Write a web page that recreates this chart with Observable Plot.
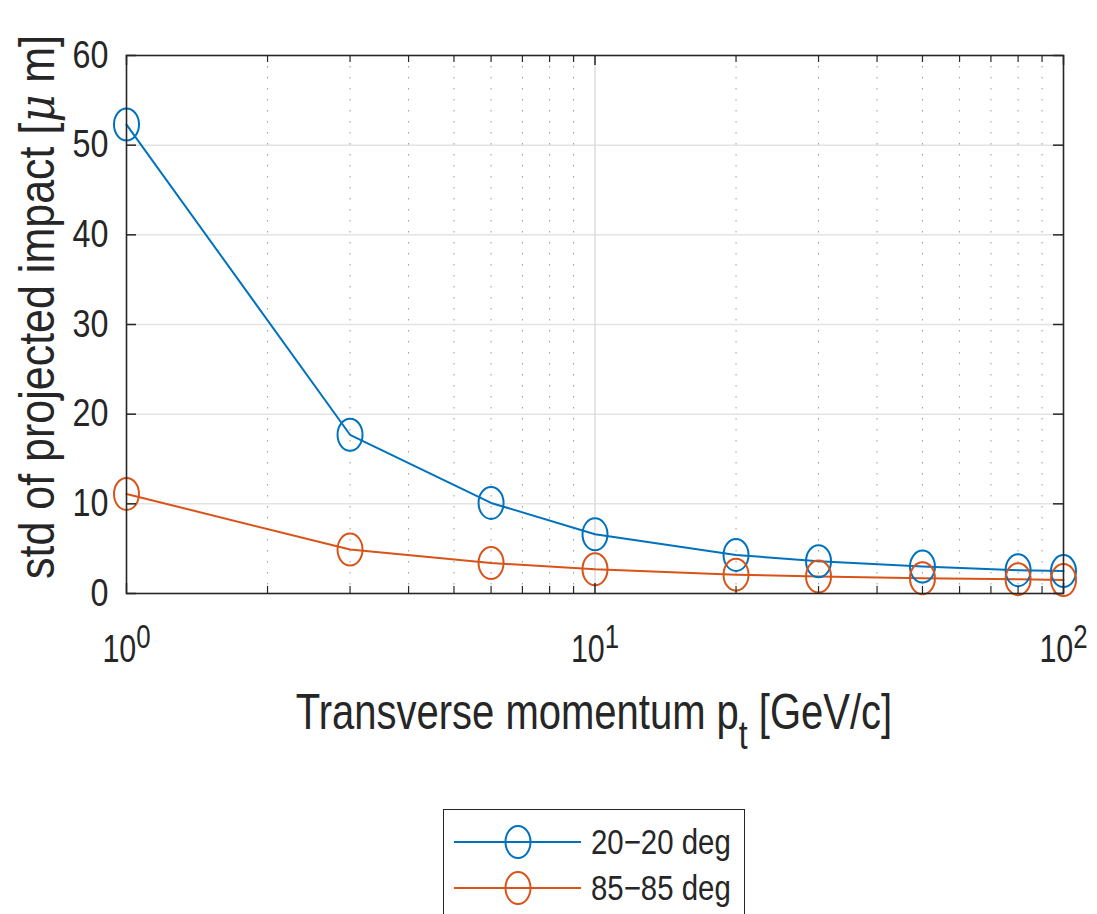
<!DOCTYPE html>
<html>
<head>
<meta charset="utf-8">
<script src="https://cdn.jsdelivr.net/npm/d3@7"></script>
<script src="https://cdn.jsdelivr.net/npm/@observablehq/plot@0.6"></script>
<style>
  html, body { margin: 0; padding: 0; background: #fff; overflow: hidden; }
  body { font-family: "Liberation Sans", Arial, sans-serif; color: #262626; }
  #legend { position: absolute; left: 443px; top: 809px; width: 302px; height: 130px;
    border: 1.6px solid #262626; background: #fff; box-sizing: border-box; }
</style>
</head>
<body>
<div id="chart"></div>
<div id="legend"></div>
<script>
// ---- data ----
const pt = [1, 3, 6, 10, 20, 30, 50, 80, 100];
const std20 = [52.3, 17.7, 10.1, 6.6, 4.3, 3.6, 3.0, 2.6, 2.5];
const std85 = [11.1, 4.9, 3.4, 2.7, 2.1, 1.9, 1.7, 1.6, 1.5];
const seriesNames = ["20-20 deg", "85-85 deg"];
const seriesColors = ["#0072BD", "#D95319"];
const yTicks = [0, 10, 20, 30, 40, 50, 60];
const xMajor = [1, 10, 100];
const xMinor = [2, 3, 4, 5, 6, 7, 8, 9, 20, 30, 40, 50, 60, 70, 80, 90];
const xExp = ["0", "1", "2"];

const rows = [];
pt.forEach((x, i) => rows.push({x, y: std20[i], s: seriesNames[0]}));
pt.forEach((x, i) => rows.push({x, y: std85[i], s: seriesNames[1]}));

const FONT = '"Liberation Sans", Arial, sans-serif';
const W = 1097, H = 763, mL = 126, mR = 34, mT = 55, mB = 170;
const pw = W - mL - mR, ph = H - mT - mB;

// ellipse symbol (markers look taller than wide)
const ellipse = {
  draw(ctx, size) {
    const rx = 12.5, ry = 16, k = 0.5523;
    ctx.moveTo(rx, 0);
    ctx.bezierCurveTo(rx, k * ry, k * rx, ry, 0, ry);
    ctx.bezierCurveTo(-k * rx, ry, -rx, k * ry, -rx, 0);
    ctx.bezierCurveTo(-rx, -k * ry, -k * rx, -ry, 0, -ry);
    ctx.bezierCurveTo(k * rx, -ry, rx, -k * ry, rx, 0);
    ctx.closePath();
  }
};

const chart = Plot.plot({
  width: W, height: H,
  marginLeft: mL, marginRight: mR, marginTop: mT, marginBottom: mB,
  style: {fontFamily: FONT, fontSize: "38px", color: "#262626", background: "#fff", overflow: "visible"},
  x: {type: "log", domain: [1, 100]},
  y: {domain: [0, 60]},
  color: {domain: seriesNames, range: seriesColors},
  marks: [
    Plot.ruleY(yTicks.slice(1, -1), {stroke: "#e3e3e3", strokeWidth: 1.5}),
    Plot.ruleX(xMinor, {stroke: "#9a9a9a", strokeWidth: 1, strokeDasharray: "1.5,9.5"}),
    Plot.ruleX([10], {stroke: "#dcdcdc", strokeWidth: 1.5}),
    Plot.line(rows, {x: "x", y: "y", z: "s", stroke: "s", strokeWidth: 2}),
    Plot.dot(rows, {x: "x", y: "y", stroke: "s", symbol: () => ellipse, r: 10, strokeWidth: 2, fill: "none"}),
    // inward ticks
    Plot.ruleX(xMajor, {stroke: "#262626", strokeWidth: 1.5, insetTop: ph - 10}),
    Plot.ruleX(xMajor, {stroke: "#262626", strokeWidth: 1.5, insetBottom: ph - 10}),
    Plot.ruleX(xMinor, {stroke: "#262626", strokeWidth: 1.2, insetTop: ph - 7}),
    Plot.ruleX(xMinor, {stroke: "#262626", strokeWidth: 1.2, insetBottom: ph - 7}),
    Plot.ruleY(yTicks, {stroke: "#262626", strokeWidth: 1.5, insetRight: pw - 10}),
    Plot.ruleY(yTicks, {stroke: "#262626", strokeWidth: 1.5, insetLeft: pw - 10}),
    Plot.frame({stroke: "#262626", strokeWidth: 1.6}),
    Plot.axisY(yTicks, {tickSize: 0, tickPadding: 18, label: null, fill: "#262626"}),
    Plot.axisX(xMajor, {tickSize: 0, tickPadding: 42, label: null, fill: "#262626",
      tickFormat: (d) => "10^" + xExp[xMajor.indexOf(d)]})
  ]
});
document.getElementById("chart").appendChild(chart);

const svg = d3.select(chart);
function squeeze(el, f) {
  const tr = el.getAttribute("transform") || "";
  el.setAttribute("transform", tr + ` scale(${f},1)`);
}
// y tick labels condensed
svg.selectAll('g[aria-label="y-axis tick label"] text').each(function () { squeeze(this, 0.85); });
// superscripts on x tick labels
svg.selectAll('g[aria-label="x-axis tick label"] text').each(function () {
  const t = d3.select(this);
  const parts = t.text().split("^");
  t.text(parts[0]);
  t.append("tspan").attr("dy", "-0.45em").attr("font-size", "0.85em").text(parts[1]);
  squeeze(this, 0.8);
});

// axis titles
const xl = svg.append("text")
  .attr("transform", "translate(594,729) scale(0.8,1)")
  .attr("text-anchor", "middle").attr("font-size", 50).attr("fill", "#262626")
  .attr("font-family", FONT);
xl.append("tspan").text("Transverse momentum p");
xl.append("tspan").attr("dy", "0.5em").attr("font-size", "0.8em").text("t");
xl.append("tspan").attr("dy", "-0.4em").text(" [GeV/c]");

const yl = svg.append("text")
  .attr("transform", "translate(54,307) rotate(-90) scale(0.86,1)")
  .attr("text-anchor", "middle").attr("font-size", 50).attr("fill", "#262626")
  .attr("font-family", FONT);
yl.append("tspan").text("std of projected impact [");
yl.append("tspan").attr("font-style", "italic").attr("font-family", "DejaVu Serif").text("μ");
yl.append("tspan").text(" m]");

// legend
const leg = d3.select("#legend").append("svg").attr("width", 300).attr("height", 128);
seriesNames.forEach((name, i) => {
  const cy = 32 + i * 46;
  leg.append("line").attr("x1", 10).attr("x2", 137).attr("y1", cy).attr("y2", cy)
    .attr("stroke", seriesColors[i]).attr("stroke-width", 2);
  leg.append("ellipse").attr("cx", 74).attr("cy", cy).attr("rx", 12.5).attr("ry", 16)
    .attr("fill", "none").attr("stroke", seriesColors[i]).attr("stroke-width", 2);
  leg.append("text").attr("transform", `translate(147,${cy + 12}) scale(0.84,1)`)
    .attr("font-size", 35).attr("font-family", FONT).attr("fill", "#262626")
    .text(name.replace("-", "\u2212"));
});
</script>
</body>
</html>
